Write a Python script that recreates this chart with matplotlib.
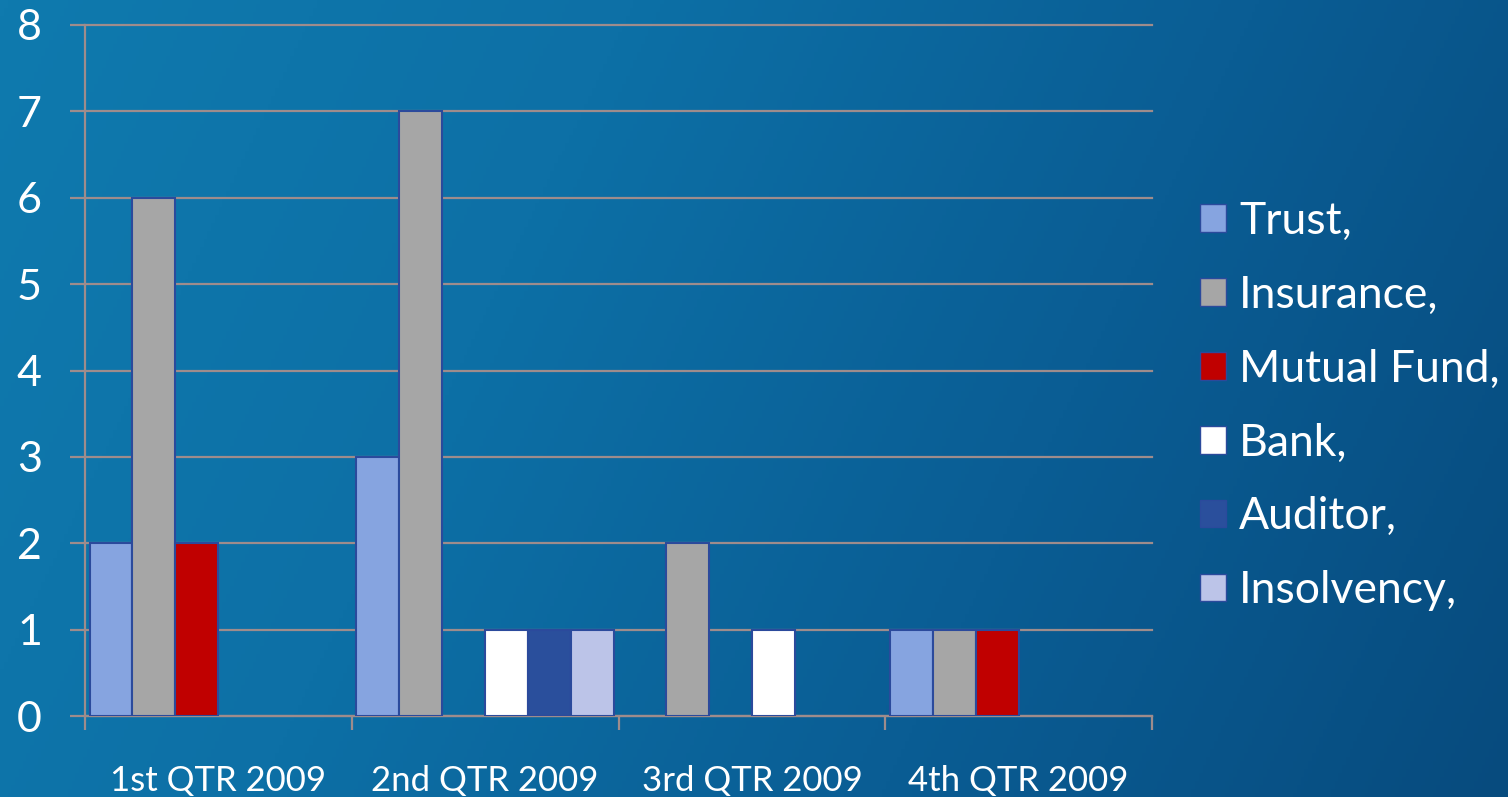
import numpy as np
import matplotlib.pyplot as plt
from matplotlib.patches import Patch
from matplotlib.colors import LinearSegmentedColormap

# Data
quarters = ['1st QTR 2009', '2nd QTR 2009', '3rd QTR 2009', '4th QTR 2009']
series = ['Trust,', 'Insurance,', 'Mutual Fund,', 'Bank,', 'Auditor,', 'Insolvency,']
trust = [2, 3, 0, 1]
insurance = [6, 7, 2, 1]
mutual_fund = [2, 0, 0, 1]
bank = [0, 1, 1, 0]
auditor = [0, 1, 0, 0]
insolvency = [0, 1, 0, 0]
values = [trust, insurance, mutual_fund, bank, auditor, insolvency]
colors = ['#86A4E0', '#A6A6A6', '#C00000', '#FFFFFF', '#2A4F9C', '#BCC4E8']

plt.rcParams['font.family'] = ['Lato', 'DejaVu Sans']
grid_col = '#9E8C8C'
edge_col = '#2B4A9C'

W, H = 1508, 797
fig = plt.figure(figsize=(W / 100, H / 100), dpi=100)

# Background gradient
bg = fig.add_axes([0, 0, 1, 1], zorder=-10)
xx, yy = np.meshgrid(np.linspace(0, 1, 400), np.linspace(0, 1, 200))
t = np.clip(0.8 * xx + 0.2 * yy, 0, 1)
cmap = LinearSegmentedColormap.from_list('bg', ['#0F7AAE', '#0D70A6', '#0A5D94', '#074B7E'])
bg.imshow(t, cmap=cmap, aspect='auto', extent=[0, 1, 0, 1], origin='upper')
bg.axis('off')

ax = fig.add_axes([85 / W, 1 - 716 / H, (1152 - 85) / W, (716 - 25) / H])
ax.patch.set_alpha(0)

n = len(series)
w = 0.161
x = np.arange(len(quarters))
for i, (vals, c) in enumerate(zip(values, colors)):
    v = np.array(vals, dtype=float)
    keep = v > 0
    ax.bar(x[keep] + 0.5 - n * w / 2 + i * w, v[keep], width=w, align='edge',
           color=c, edgecolor=edge_col, linewidth=1.5, zorder=3)

ax.set_xlim(0, 4)
ax.set_ylim(0, 8)
ax.set_yticks(range(0, 9))
ax.yaxis.grid(True, color=grid_col, linewidth=1.6, zorder=1)
ax.set_axisbelow(True)
for gl in ax.get_ygridlines():
    gl.set_clip_on(False)

ax.set_xticks(range(0, 5))
ax.set_xticklabels([])
ax.set_xticks(x + 0.5, minor=True)
ax.set_xticklabels(quarters, minor=True)
ax.tick_params(axis='x', which='major', length=10, width=1.6, color=grid_col, direction='out')
ax.tick_params(axis='x', which='minor', length=0, pad=35, labelsize=25, labelcolor='white')
ax.tick_params(axis='y', length=11, width=1.6, color=grid_col, pad=20, labelsize=31, labelcolor='white')

for s in ['top', 'right']:
    ax.spines[s].set_visible(False)
for s in ['left', 'bottom']:
    ax.spines[s].set_color(grid_col)
    ax.spines[s].set_linewidth(1.6)

handles = [Patch(facecolor=c, edgecolor=edge_col, linewidth=1.0) for c in colors]
leg = fig.legend(handles, series, loc='center left', bbox_to_anchor=(1200 / W, 1 - 406 / H),
                 frameon=False, fontsize=32, labelcolor='white', handlelength=0.58,
                 handleheight=0.58, handletextpad=0.3, labelspacing=0.74,
                 borderpad=0, borderaxespad=0)

fig.savefig('out.png', dpi=100)
